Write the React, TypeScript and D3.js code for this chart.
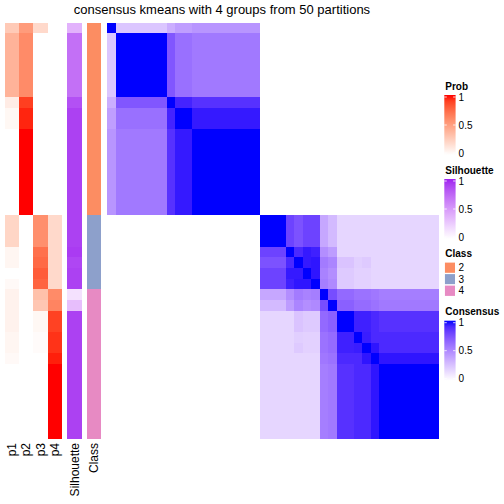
import React from "react";
import * as d3 from "d3";

// ---- data (block structure of the 39 ordered samples) ----
const blockSizes = [1, 6, 1, 2, 8, 3, 1, 1, 1, 1, 1, 1, 2, 1, 1, 1, 7];
const blockClass = [2, 2, 2, 2, 2, 3, 3, 3, 3, 3, 4, 4, 4, 4, 4, 4, 4];
const probP1 = [0.28, 0.4, 0.1, 0.04, 0, 0.22, 0.05, 0.05, 0, 0.03, 0.07, 0.07, 0.07, 0.05, 0.05, 0.03, 0];
const probP2 = [0.52, 0.6, 0.9, 0.96, 1, 0, 0, 0, 0, 0, 0, 0, 0, 0, 0, 0, 0];
const probP3 = [0.2, 0, 0, 0, 0, 0.58, 0.72, 0.75, 0.8, 0.77, 0.33, 0.3, 0.04, 0.02, 0.02, 0, 0];
const probP4 = [0, 0, 0, 0, 0, 0.2, 0.2, 0.2, 0.2, 0.2, 0.6, 0.63, 0.89, 0.93, 0.93, 0.97, 1];
const silhouette = [0.38, 0.7, 0.84, 0.9, 0.9, 0.9, 0.92, 0.88, 0.9, 0.9, 0.15, 0.32, 0.9, 0.9, 0.9, 0.9, 0.9];
// upper triangle of the block consensus matrix (row i holds columns i..16)
const consensusUpper: number[][] = [
  [1, 0.24, 0.34, 0.41, 0.45, 0, 0, 0, 0, 0, 0, 0, 0, 0, 0, 0, 0],
  [1, 0.72, 0.61, 0.57, 0, 0, 0, 0, 0, 0, 0, 0, 0, 0, 0, 0],
  [1, 0.92, 0.87, 0, 0, 0, 0, 0, 0, 0, 0, 0, 0, 0, 0],
  [1, 0.95, 0, 0, 0, 0, 0, 0, 0, 0, 0, 0, 0, 0],
  [1, 0, 0, 0, 0, 0, 0, 0, 0, 0, 0, 0, 0],
  [1, 0.8, 0.74, 0.8, 0.8, 0.37, 0.29, 0.17, 0.17, 0.17, 0.17, 0.17],
  [1, 0.9, 0.95, 0.93, 0.48, 0.42, 0.17, 0.17, 0.17, 0.17, 0.17],
  [1, 0.95, 0.96, 0.56, 0.52, 0.25, 0.2, 0.22, 0.17, 0.17],
  [1, 0.96, 0.53, 0.48, 0.22, 0.19, 0.19, 0.17, 0.17],
  [1, 0.55, 0.5, 0.22, 0.19, 0.19, 0.17, 0.17],
  [1, 0.76, 0.64, 0.6, 0.6, 0.58, 0.55],
  [1, 0.68, 0.63, 0.63, 0.6, 0.57],
  [1, 0.93, 0.93, 0.9, 0.87],
  [1, 0.94, 0.9, 0.9],
  [1, 0.96, 0.9],
  [1, 0.96],
  [1],
];
const probNames = ["p1", "p2", "p3", "p4"];
const classLevels = [2, 3, 4];
const classColors = ["#FC8D62", "#8DA0CB", "#E78AC3"];
const legendTicks = [1, 0.5, 0];
const titleText = "consensus kmeans with 4 groups from 50 partitions";

const FONT = "'Liberation Sans', Arial, Helvetica, sans-serif";

export default function App() {
  const nBlocks = blockSizes.length;
  const starts: number[] = [];
  let acc = 0;
  blockSizes.forEach((s) => {
    starts.push(acc);
    acc += s;
  });
  const nSamples = acc;
  const sampleIdx = d3.range(nSamples);

  const xS = d3.scaleBand<number>().domain(sampleIdx).range([107.3, 439]).padding(0);
  const yS = d3.scaleBand<number>().domain(sampleIdx).range([22.7, 438.7]).padding(0);
  const annX = d3.scaleBand<string>().domain(probNames).range([5, 61.7]).padding(0);
  const silX = [67.3, 81.5];
  const clsX = [87.2, 101.3];

  const consCol = d3.scaleLinear<string>().domain([0, 1]).range(["#FFFFFF", "#0000FF"]).interpolate(d3.interpolateLab);
  const probCol = d3.scaleLinear<string>().domain([0, 1]).range(["#FFFFFF", "#FF0000"]).interpolate(d3.interpolateLab);
  const silCol = d3.scaleLinear<string>().domain([0, 1]).range(["#FFFFFF", "#A020F0"]).interpolate(d3.interpolateLab);
  const clsCol = d3.scaleOrdinal<number, string>().domain(classLevels).range(classColors);

  const cons = (i: number, j: number) => (i <= j ? consensusUpper[i][j - i] : consensusUpper[j][i - j]);
  const probs = [probP1, probP2, probP3, probP4];

  const bw = xS.bandwidth();
  const bh = yS.bandwidth();

  const heatCells: JSX.Element[] = [];
  for (let i = 0; i < nBlocks; i++) {
    for (let j = 0; j < nBlocks; j++) {
      heatCells.push(
        <rect
          key={`c${i}-${j}`}
          x={xS(starts[j])}
          y={yS(starts[i])}
          width={bw * blockSizes[j] + 0.3}
          height={bh * blockSizes[i] + 0.3}
          fill={consCol(cons(i, j))}
        />
      );
    }
  }

  const annCells: JSX.Element[] = [];
  for (let i = 0; i < nBlocks; i++) {
    const y = yS(starts[i]) as number;
    const h = bh * blockSizes[i] + 0.3;
    probNames.forEach((p, k) => {
      annCells.push(
        <rect key={`p${k}-${i}`} x={annX(p)} y={y} width={annX.bandwidth() + 0.2} height={h} fill={probCol(probs[k][i])} />
      );
    });
    annCells.push(<rect key={`s${i}`} x={silX[0]} y={y} width={silX[1] - silX[0]} height={h} fill={silCol(silhouette[i])} />);
    annCells.push(<rect key={`k${i}`} x={clsX[0]} y={y} width={clsX[1] - clsX[0]} height={h} fill={clsCol(blockClass[i])} />);
  }

  const labelY = 443;
  const bottomLabels = [
    ...probNames.map((p) => ({ t: p, cx: (annX(p) as number) + annX.bandwidth() / 2 })),
    { t: "Silhouette", cx: (silX[0] + silX[1]) / 2 },
    { t: "Class", cx: (clsX[0] + clsX[1]) / 2 },
  ];

  const legX = 444.3;
  const legW = 11.3;
  const tickScale = (top: number) => d3.scaleLinear().domain([1, 0]).range([top + 11, top + 67]);

  const contLegends = [
    { title: "Prob", top: 86, col: probCol, id: "gProb" },
    { title: "Silhouette", top: 170, col: silCol, id: "gSil" },
    { title: "Consensus", top: 311.7, col: consCol, id: "gCons" },
  ];
  const classTop = 253.5;
  const sq = 11.5;

  return (
    <div style={{ position: "absolute", left: 0, top: 0 }}>
      <svg width={504} height={504} style={{ display: "block" }} fontFamily={FONT}>
        <defs>
          {contLegends.map((L) => (
            <linearGradient key={L.id} id={L.id} x1="0" y1="0" x2="0" y2="1">
              {d3.range(0, 1.0001, 0.1).map((t) => (
                <stop key={t} offset={`${t * 100}%`} stopColor={L.col(1 - t)} />
              ))}
            </linearGradient>
          ))}
        </defs>
        <rect x={0} y={0} width={504} height={504} fill="#FFFFFF" />
        <text x={222} y={13.5} fontSize={13} textAnchor="middle" fill="#000">
          {titleText}
        </text>
        <g shapeRendering="crispEdges">{annCells}</g>
        <g shapeRendering="crispEdges">{heatCells}</g>
        {bottomLabels.map((l) => (
          <text
            key={l.t}
            transform={`translate(${l.cx},${labelY}) rotate(-90)`}
            fontSize={12}
            textAnchor="end"
            dy="0.35em"
            fill="#000"
          >
            {l.t}
          </text>
        ))}
        {contLegends.map((L) => {
          const ts = tickScale(L.top);
          const y0 = ts(1) - 2;
          const y1 = ts(0) + 2;
          return (
            <g key={L.title}>
              <text x={legX + 1} y={L.top} dy="0.35em" fontSize={10} fontWeight="bold" fill="#000">
                {L.title}
              </text>
              <rect x={legX} y={y0} width={legW} height={y1 - y0} fill={`url(#${L.id})`} />
              {legendTicks.map((t) => (
                <g key={t}>
                  <line x1={legX} x2={legX + 2.5} y1={ts(t)} y2={ts(t)} stroke="#FFFFFF" strokeWidth={0.8} />
                  <line x1={legX + legW - 2.5} x2={legX + legW} y1={ts(t)} y2={ts(t)} stroke="#FFFFFF" strokeWidth={0.8} />
                  <text x={legX + legW + 3} y={ts(t)} dy="0.35em" fontSize={10} fill="#000">
                    {String(t)}
                  </text>
                </g>
              ))}
            </g>
          );
        })}
        <g>
          <text x={legX + 1} y={classTop} dy="0.35em" fontSize={10} fontWeight="bold" fill="#000">
            Class
          </text>
          {classLevels.map((c, k) => (
            <g key={c}>
              <rect
                x={legX}
                y={classTop + 8.5 + k * sq}
                width={legW}
                height={sq}
                fill={clsCol(c)}
                stroke="#FFFFFF"
                strokeWidth={1.2}
              />
              <text x={legX + legW + 3} y={classTop + 8.5 + k * sq + sq / 2} dy="0.35em" fontSize={10} fill="#000">
                {String(c)}
              </text>
            </g>
          ))}
        </g>
      </svg>
    </div>
  );
}
